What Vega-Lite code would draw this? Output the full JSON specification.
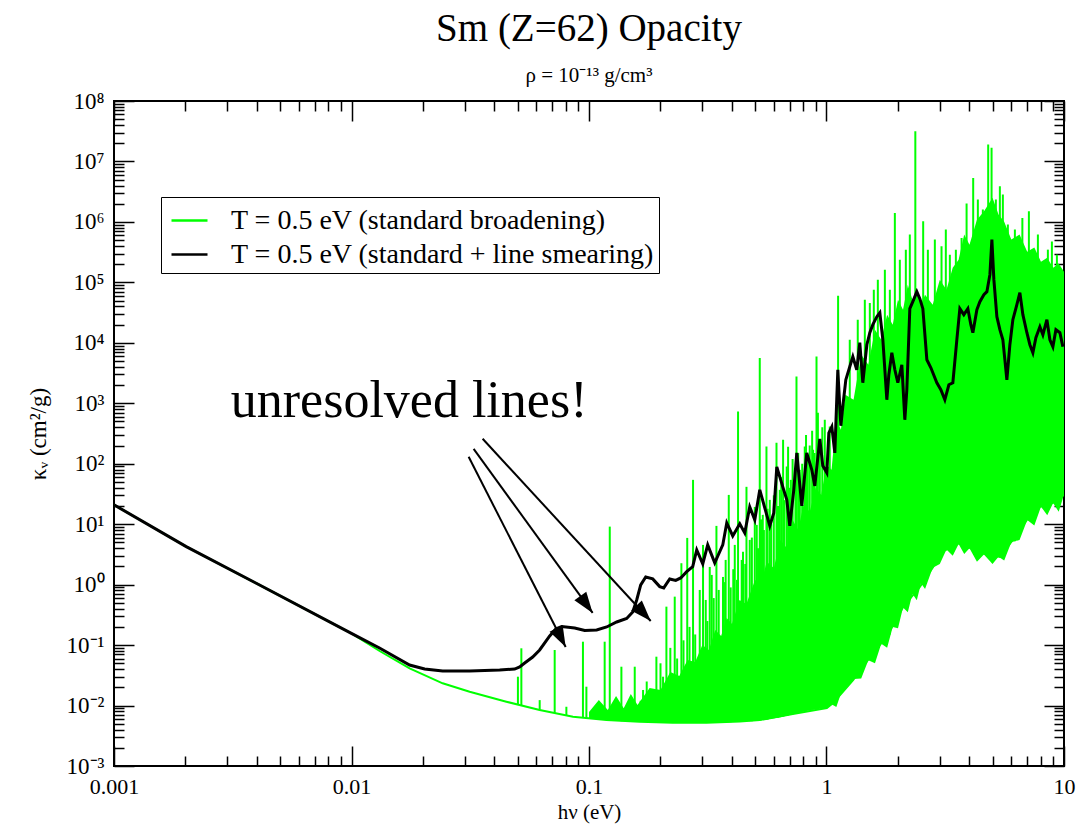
{
  "$schema": "https://vega.github.io/schema/vega-lite/v6.json",
  "width": 950,
  "height": 665,
  "autosize": {"type": "none"},
  "padding": {"left": 114, "top": 101, "right": 20, "bottom": 62},
  "background": "white",
  "config": {
    "view": {"stroke": "black", "strokeWidth": 2},
    "font": "Liberation Serif",
    "axis": {
      "labelFont": "Liberation Serif",
      "titleFont": "Liberation Serif",
      "labelColor": "black",
      "titleColor": "black",
      "tickColor": "black",
      "tickWidth": 1.5,
      "domain": false,
      "grid": false,
      "labelFontSize": 22,
      "titleFontSize": 21,
      "titleFontWeight": "normal",
      "labelOverlap": false,
      "zindex": 1
    }
  },
  "title": {
    "text": "Sm (Z=62) Opacity",
    "subtitle": "ρ = 10⁻¹³ g/cm³",
    "font": "Liberation Serif",
    "fontSize": 39,
    "fontWeight": "normal",
    "color": "black",
    "subtitleFont": "Liberation Serif",
    "subtitleFontSize": 21,
    "subtitleColor": "black",
    "subtitlePadding": 16,
    "anchor": "middle",
    "offset": 4
  },
  "datasets": {
    "standard": [
      {"hv": 0.001, "kappa": 20.9},
      {"hv": 0.002014, "kappa": 4.26},
      {"hv": 0.003972, "kappa": 1.054},
      {"hv": 0.00999, "kappa": 0.1567},
      {"hv": 0.01313, "kappa": 0.0798},
      {"hv": 0.01757, "kappa": 0.04128},
      {"hv": 0.0242, "kappa": 0.02331},
      {"hv": 0.03144, "kappa": 0.01693},
      {"hv": 0.04488, "kappa": 0.01156},
      {"hv": 0.06198, "kappa": 0.008424},
      {"hv": 0.08561, "kappa": 0.006525},
      {"hv": 0.1184, "kappa": 0.005753},
      {"hv": 0.1634, "kappa": 0.005394},
      {"hv": 0.2252, "kappa": 0.00519},
      {"hv": 0.3122, "kappa": 0.00519},
      {"hv": 0.4313, "kappa": 0.005435},
      {"hv": 0.5237, "kappa": 0.005753},
      {"hv": 0.7211, "kappa": 0.007233},
      {"hv": 1.003, "kappa": 0.009093},
      {"hv": 1.066, "kappa": 0.011},
      {"hv": 1.294, "kappa": 0.02644},
      {"hv": 1.572, "kappa": 0.07399},
      {"hv": 1.789, "kappa": 0.1362},
      {"hv": 2.102, "kappa": 0.4273},
      {"hv": 2.472, "kappa": 0.9161},
      {"hv": 2.812, "kappa": 1.963},
      {"hv": 3.001, "kappa": 3.348},
      {"hv": 3.643, "kappa": 4.901},
      {"hv": 4.424, "kappa": 3.348},
      {"hv": 5.37, "kappa": 2.874},
      {"hv": 6.091, "kappa": 5.497},
      {"hv": 6.978, "kappa": 11.78},
      {"hv": 7.916, "kappa": 19.34},
      {"hv": 8.979, "kappa": 22.52},
      {"hv": 9.99, "kappa": 30.55}
    ],
    "forest": [
      {"hv": 0.1, "lo": 0.00617, "hi": 0.0078},
      {"hv": 0.11, "lo": 0.00589, "hi": 0.01233},
      {"hv": 0.12, "lo": 0.00575, "hi": 0.00841},
      {"hv": 0.13, "lo": 0.00562, "hi": 0.01435},
      {"hv": 0.14, "lo": 0.0055, "hi": 0.00906},
      {"hv": 0.15, "lo": 0.00543, "hi": 0.01549},
      {"hv": 0.16, "lo": 0.0054, "hi": 0.01019},
      {"hv": 0.18, "lo": 0.00531, "hi": 0.0195},
      {"hv": 0.2, "lo": 0.00525, "hi": 0.01807},
      {"hv": 0.22, "lo": 0.00519, "hi": 0.0359},
      {"hv": 0.24, "lo": 0.00519, "hi": 0.0308},
      {"hv": 0.26, "lo": 0.00519, "hi": 0.0566},
      {"hv": 0.28, "lo": 0.00519, "hi": 0.0525},
      {"hv": 0.3, "lo": 0.00519, "hi": 0.1005},
      {"hv": 0.32, "lo": 0.00519, "hi": 0.083},
      {"hv": 0.34, "lo": 0.00521, "hi": 0.178},
      {"hv": 0.36, "lo": 0.00525, "hi": 0.1416},
      {"hv": 0.38, "lo": 0.00531, "hi": 0.281},
      {"hv": 0.4, "lo": 0.00537, "hi": 0.2234},
      {"hv": 0.43, "lo": 0.00543, "hi": 0.558},
      {"hv": 0.46, "lo": 0.0055, "hi": 0.479},
      {"hv": 0.5, "lo": 0.00562, "hi": 1.197},
      {"hv": 0.53, "lo": 0.00575, "hi": 1.028},
      {"hv": 0.56, "lo": 0.00589, "hi": 2.382},
      {"hv": 0.6, "lo": 0.00617, "hi": 1.888},
      {"hv": 0.64, "lo": 0.00646, "hi": 5.5},
      {"hv": 0.68, "lo": 0.00676, "hi": 4.055},
      {"hv": 0.72, "lo": 0.00716, "hi": 11.78},
      {"hv": 0.76, "lo": 0.00759, "hi": 8.05},
      {"hv": 0.8, "lo": 0.00794, "hi": 20.9},
      {"hv": 0.85, "lo": 0.00832, "hi": 16.0},
      {"hv": 0.9, "lo": 0.00871, "hi": 39.9},
      {"hv": 0.95, "lo": 0.00891, "hi": 30.5},
      {"hv": 1.0, "lo": 0.00912, "hi": 95.9},
      {"hv": 1.05, "lo": 0.0105, "hi": 79.3},
      {"hv": 1.1, "lo": 0.0095, "hi": 533},
      {"hv": 1.15, "lo": 0.0158, "hi": 364},
      {"hv": 1.2, "lo": 0.0191, "hi": 1384},
      {"hv": 1.3, "lo": 0.0275, "hi": 1143},
      {"hv": 1.4, "lo": 0.028, "hi": 6353},
      {"hv": 1.5, "lo": 0.0562, "hi": 4335},
      {"hv": 1.6, "lo": 0.05, "hi": 16480},
      {"hv": 1.7, "lo": 0.105, "hi": 11250},
      {"hv": 1.8, "lo": 0.09, "hi": 29170},
      {"hv": 1.9, "lo": 0.2, "hi": 19910},
      {"hv": 2.0, "lo": 0.19, "hi": 51760},
      {"hv": 2.1, "lo": 0.417, "hi": 35320},
      {"hv": 2.2, "lo": 0.35, "hi": 91620},
      {"hv": 2.3, "lo": 0.708, "hi": 51760},
      {"hv": 2.4, "lo": 0.55, "hi": 75680},
      {"hv": 2.5, "lo": 1.05, "hi": 42760},
      {"hv": 2.6, "lo": 0.85, "hi": 62520},
      {"hv": 2.8, "lo": 1.91, "hi": 42760},
      {"hv": 3.0, "lo": 2.2, "hi": 110900},
      {"hv": 3.2, "lo": 3.8, "hi": 75680},
      {"hv": 3.4, "lo": 3.0, "hi": 175000},
      {"hv": 3.6, "lo": 4.68, "hi": 237700},
      {"hv": 3.8, "lo": 3.2, "hi": 616600},
      {"hv": 4.0, "lo": 3.98, "hi": 420700},
      {"hv": 4.3, "lo": 2.4, "hi": 1090000},
      {"hv": 4.6, "lo": 3.16, "hi": 1480000},
      {"hv": 5.0, "lo": 2.2, "hi": 2520000},
      {"hv": 5.3, "lo": 2.88, "hi": 1320000},
      {"hv": 5.6, "lo": 2.5, "hi": 1010000},
      {"hv": 6.0, "lo": 5.01, "hi": 509300},
      {"hv": 6.5, "lo": 5.5, "hi": 616600},
      {"hv": 7.0, "lo": 11.7, "hi": 322100},
      {"hv": 7.5, "lo": 9.5, "hi": 375800},
      {"hv": 8.0, "lo": 19.5, "hi": 220300},
      {"hv": 8.5, "lo": 14, "hi": 256400},
      {"hv": 9.0, "lo": 22.4, "hi": 175000},
      {"hv": 9.5, "lo": 16, "hi": 204200},
      {"hv": 10.0, "lo": 30.9, "hi": 150300}
    ],
    "lines": [
      {"hv": 0.0502, "base": 0.0105, "peak": 0.03},
      {"hv": 0.0519, "base": 0.0102, "peak": 0.0885},
      {"hv": 0.062, "base": 0.0084, "peak": 0.0123},
      {"hv": 0.0717, "base": 0.0075, "peak": 0.083},
      {"hv": 0.0803, "base": 0.0068, "peak": 0.00955},
      {"hv": 0.0943, "base": 0.0063, "peak": 0.1138},
      {"hv": 0.0975, "base": 0.0062, "peak": 0.0205},
      {"hv": 0.1164, "base": 0.0058, "peak": 0.1138},
      {"hv": 0.1223, "base": 0.0058, "peak": 9.12},
      {"hv": 0.1369, "base": 0.0055, "peak": 0.0439},
      {"hv": 0.1558, "base": 0.0054, "peak": 0.0439},
      {"hv": 0.165, "base": 0.0054, "peak": 0.012},
      {"hv": 0.1689, "base": 0.0054, "peak": 0.0181},
      {"hv": 0.175, "base": 0.0054, "peak": 0.025},
      {"hv": 0.185, "base": 0.0053, "peak": 0.015},
      {"hv": 0.1922, "base": 0.0053, "peak": 0.0643},
      {"hv": 0.2, "base": 0.0053, "peak": 0.05},
      {"hv": 0.205, "base": 0.0052, "peak": 0.03},
      {"hv": 0.2118, "base": 0.0052, "peak": 0.4324},
      {"hv": 0.22, "base": 0.0052, "peak": 0.09},
      {"hv": 0.2296, "base": 0.0052, "peak": 0.633},
      {"hv": 0.235, "base": 0.0052, "peak": 0.06},
      {"hv": 0.2449, "base": 0.0052, "peak": 2.261},
      {"hv": 0.25, "base": 0.0052, "peak": 0.12},
      {"hv": 0.2592, "base": 0.0052, "peak": 5.93},
      {"hv": 0.265, "base": 0.0052, "peak": 0.2},
      {"hv": 0.2742, "base": 0.0052, "peak": 54.1},
      {"hv": 0.28, "base": 0.0052, "peak": 0.15},
      {"hv": 0.2926, "base": 0.0052, "peak": 0.817},
      {"hv": 0.3021, "base": 0.0052, "peak": 4.54},
      {"hv": 0.3101, "base": 0.0052, "peak": 0.558},
      {"hv": 0.315, "base": 0.0052, "peak": 0.25},
      {"hv": 0.3224, "base": 0.0052, "peak": 1.963},
      {"hv": 0.3287, "base": 0.0052, "peak": 1.447},
      {"hv": 0.335, "base": 0.0052, "peak": 0.6},
      {"hv": 0.344, "base": 0.0052, "peak": 9.37},
      {"hv": 0.3517, "base": 0.0053, "peak": 0.817},
      {"hv": 0.3667, "base": 0.0053, "peak": 1.341},
      {"hv": 0.37, "base": 0.0053, "peak": 1.1},
      {"hv": 0.3762, "base": 0.0053, "peak": 2.564},
      {"hv": 0.3877, "base": 0.0053, "peak": 30.5},
      {"hv": 0.395, "base": 0.0053, "peak": 0.9},
      {"hv": 0.405, "base": 0.0054, "peak": 1.8},
      {"hv": 0.4109, "base": 0.0054, "peak": 4.543},
      {"hv": 0.42, "base": 0.0054, "peak": 1.2},
      {"hv": 0.4242, "base": 0.0054, "peak": 731.6},
      {"hv": 0.4395, "base": 0.0054, "peak": 2.564},
      {"hv": 0.445, "base": 0.0054, "peak": 3.5},
      {"hv": 0.455, "base": 0.0055, "peak": 2.2},
      {"hv": 0.4603, "base": 0.0055, "peak": 41.5},
      {"hv": 0.4751, "base": 0.0055, "peak": 5.497},
      {"hv": 0.485, "base": 0.0055, "peak": 6},
      {"hv": 0.4989, "base": 0.0056, "peak": 19.3},
      {"hv": 0.5085, "base": 0.0056, "peak": 9.736},
      {"hv": 0.515, "base": 0.0056, "peak": 4},
      {"hv": 0.5236, "base": 0.0057, "peak": 5602},
      {"hv": 0.53, "base": 0.0057, "peak": 12},
      {"hv": 0.5391, "base": 0.0058, "peak": 14.26},
      {"hv": 0.545, "base": 0.0058, "peak": 8},
      {"hv": 0.5587, "base": 0.0059, "peak": 192.7},
      {"hv": 0.565, "base": 0.0059, "peak": 18},
      {"hv": 0.5771, "base": 0.006, "peak": 25.25},
      {"hv": 0.585, "base": 0.006, "peak": 10},
      {"hv": 0.6, "base": 0.0062, "peak": 30},
      {"hv": 0.6158, "base": 0.0063, "peak": 221.8},
      {"hv": 0.625, "base": 0.0063, "peak": 20},
      {"hv": 0.6357, "base": 0.0064, "peak": 36.98},
      {"hv": 0.645, "base": 0.0065, "peak": 60},
      {"hv": 0.6565, "base": 0.0066, "peak": 248.7},
      {"hv": 0.665, "base": 0.0067, "peak": 25},
      {"hv": 0.68, "base": 0.0068, "peak": 90},
      {"hv": 0.6891, "base": 0.0069, "peak": 190.5},
      {"hv": 0.7, "base": 0.007, "peak": 40},
      {"hv": 0.7075, "base": 0.0071, "peak": 54.13},
      {"hv": 0.72, "base": 0.0072, "peak": 120},
      {"hv": 0.74, "base": 0.0075, "peak": 70},
      {"hv": 0.7475, "base": 0.0076, "peak": 2778},
      {"hv": 0.76, "base": 0.0077, "peak": 150},
      {"hv": 0.7719, "base": 0.0078, "peak": 79.25},
      {"hv": 0.79, "base": 0.0079, "peak": 100},
      {"hv": 0.81, "base": 0.0081, "peak": 192.7},
      {"hv": 0.82, "base": 0.0082, "peak": 300},
      {"hv": 0.8341, "base": 0.0083, "peak": 116},
      {"hv": 0.85, "base": 0.0084, "peak": 200},
      {"hv": 0.87, "base": 0.0086, "peak": 350},
      {"hv": 0.8781, "base": 0.0086, "peak": 169.9},
      {"hv": 0.89, "base": 0.0087, "peak": 150},
      {"hv": 0.9077, "base": 0.0088, "peak": 5955},
      {"hv": 0.92, "base": 0.0088, "peak": 700},
      {"hv": 0.9372, "base": 0.0089, "peak": 248.7},
      {"hv": 0.96, "base": 0.0089, "peak": 400},
      {"hv": 0.9836, "base": 0.009, "peak": 533.1},
      {"hv": 1.032, "base": 0.0105, "peak": 412.9},
      {"hv": 1.119, "base": 0.014, "peak": 60240},
      {"hv": 1.253, "base": 0.023, "peak": 11250},
      {"hv": 1.354, "base": 0.033, "peak": 24130},
      {"hv": 1.45, "base": 0.047, "peak": 51730},
      {"hv": 1.522, "base": 0.06, "peak": 45600},
      {"hv": 1.582, "base": 0.07, "peak": 75700},
      {"hv": 1.645, "base": 0.09, "peak": 110800},
      {"hv": 1.761, "base": 0.12, "peak": 162300},
      {"hv": 1.848, "base": 0.15, "peak": 75700},
      {"hv": 1.94, "base": 0.23, "peak": 1410000},
      {"hv": 2.036, "base": 0.32, "peak": 237600},
      {"hv": 2.158, "base": 0.5, "peak": 347800},
      {"hv": 2.243, "base": 0.6, "peak": 616300},
      {"hv": 2.366, "base": 0.8, "peak": 31600000},
      {"hv": 2.553, "base": 1.2, "peak": 1023000},
      {"hv": 2.672, "base": 1.5, "peak": 347800},
      {"hv": 2.859, "base": 2.2, "peak": 509300},
      {"hv": 3.05, "base": 3.4, "peak": 394500},
      {"hv": 3.18, "base": 3.7, "peak": 745700},
      {"hv": 3.307, "base": 4.0, "peak": 287500},
      {"hv": 3.505, "base": 4.5, "peak": 347800},
      {"hv": 3.705, "base": 4.7, "peak": 543300},
      {"hv": 3.889, "base": 4.3, "peak": 2010000},
      {"hv": 4.146, "base": 3.7, "peak": 5350000},
      {"hv": 4.338, "base": 3.4, "peak": 2340000},
      {"hv": 4.553, "base": 3.2, "peak": 1598000},
      {"hv": 4.795, "base": 3.0, "peak": 19050000},
      {"hv": 4.955, "base": 2.95, "peak": 16800000},
      {"hv": 5.166, "base": 2.9, "peak": 2340000},
      {"hv": 5.37, "base": 2.9, "peak": 3880000},
      {"hv": 5.528, "base": 3.4, "peak": 2830000},
      {"hv": 5.803, "base": 4.2, "peak": 902000},
      {"hv": 6.212, "base": 5.2, "peak": 745700},
      {"hv": 6.679, "base": 8.5, "peak": 1165000},
      {"hv": 7.115, "base": 11.5, "peak": 1497000},
      {"hv": 7.468, "base": 15, "peak": 347800},
      {"hv": 7.764, "base": 17, "peak": 616300},
      {"hv": 8.175, "base": 20, "peak": 209600},
      {"hv": 8.553, "base": 21, "peak": 347800},
      {"hv": 8.892, "base": 22, "peak": 472100},
      {"hv": 9.335, "base": 25, "peak": 287500},
      {"hv": 9.771, "base": 28, "peak": 125600}
    ],
    "smeared": [
      {"hv": 0.001, "kappa": 20.9},
      {"hv": 0.002014, "kappa": 4.26},
      {"hv": 0.003972, "kappa": 1.054},
      {"hv": 0.00999, "kappa": 0.1567},
      {"hv": 0.01312, "kappa": 0.0895},
      {"hv": 0.01756, "kappa": 0.0468},
      {"hv": 0.02032, "kappa": 0.0402},
      {"hv": 0.0242, "kappa": 0.03725},
      {"hv": 0.03144, "kappa": 0.03725},
      {"hv": 0.04205, "kappa": 0.0387},
      {"hv": 0.04864, "kappa": 0.0402},
      {"hv": 0.05106, "kappa": 0.0434},
      {"hv": 0.0536, "kappa": 0.0505},
      {"hv": 0.05793, "kappa": 0.0635},
      {"hv": 0.06198, "kappa": 0.083},
      {"hv": 0.06832, "kappa": 0.1415},
      {"hv": 0.07243, "kappa": 0.1848},
      {"hv": 0.07674, "kappa": 0.2032},
      {"hv": 0.08706, "kappa": 0.1919},
      {"hv": 0.09592, "kappa": 0.1744},
      {"hv": 0.1077, "kappa": 0.1778},
      {"hv": 0.1187, "kappa": 0.1994},
      {"hv": 0.1308, "kappa": 0.2412},
      {"hv": 0.1441, "kappa": 0.2757},
      {"hv": 0.1528, "kappa": 0.3532},
      {"hv": 0.1588, "kappa": 0.558},
      {"hv": 0.1651, "kappa": 0.989},
      {"hv": 0.1733, "kappa": 1.341},
      {"hv": 0.1855, "kappa": 1.243},
      {"hv": 0.1985, "kappa": 0.927},
      {"hv": 0.2064, "kappa": 0.882},
      {"hv": 0.2187, "kappa": 1.243},
      {"hv": 0.2318, "kappa": 1.173},
      {"hv": 0.2433, "kappa": 1.291},
      {"hv": 0.2579, "kappa": 1.641},
      {"hv": 0.2733, "kappa": 1.986},
      {"hv": 0.2842, "kappa": 3.754},
      {"hv": 0.3013, "kappa": 2.202},
      {"hv": 0.3161, "kappa": 4.543},
      {"hv": 0.3384, "kappa": 2.287},
      {"hv": 0.3658, "kappa": 4.543},
      {"hv": 0.3802, "kappa": 10.51},
      {"hv": 0.403, "kappa": 6.401},
      {"hv": 0.4313, "kappa": 10.12},
      {"hv": 0.4526, "kappa": 7.17},
      {"hv": 0.4751, "kappa": 19.34},
      {"hv": 0.4989, "kappa": 11.79},
      {"hv": 0.5237, "kappa": 36.98},
      {"hv": 0.5497, "kappa": 18.62},
      {"hv": 0.5771, "kappa": 9.374},
      {"hv": 0.5998, "kappa": 15.39},
      {"hv": 0.6177, "kappa": 88.85},
      {"hv": 0.6545, "kappa": 41.45},
      {"hv": 0.6805, "kappa": 25.25},
      {"hv": 0.7005, "kappa": 9.374},
      {"hv": 0.7283, "kappa": 36.98},
      {"hv": 0.7497, "kappa": 151.5},
      {"hv": 0.787, "kappa": 20.09},
      {"hv": 0.826, "kappa": 151.5},
      {"hv": 0.8671, "kappa": 79.25},
      {"hv": 0.8927, "kappa": 43.06},
      {"hv": 0.9372, "kappa": 256.4},
      {"hv": 0.9647, "kappa": 92.3},
      {"hv": 1.003, "kappa": 70.69},
      {"hv": 1.023, "kappa": 324.8},
      {"hv": 1.053, "kappa": 408.3},
      {"hv": 1.084, "kappa": 151.5},
      {"hv": 1.116, "kappa": 3585},
      {"hv": 1.149, "kappa": 424.2},
      {"hv": 1.171, "kappa": 875.1},
      {"hv": 1.206, "kappa": 2449},
      {"hv": 1.253, "kappa": 4021},
      {"hv": 1.291, "kappa": 5887},
      {"hv": 1.341, "kappa": 3585},
      {"hv": 1.381, "kappa": 10040},
      {"hv": 1.422, "kappa": 2185},
      {"hv": 1.479, "kappa": 9301},
      {"hv": 1.522, "kappa": 14700},
      {"hv": 1.567, "kappa": 19940},
      {"hv": 1.629, "kappa": 27050},
      {"hv": 1.677, "kappa": 31500},
      {"hv": 1.727, "kappa": 11250},
      {"hv": 1.795, "kappa": 1143},
      {"hv": 1.83, "kappa": 2965},
      {"hv": 1.884, "kappa": 6857},
      {"hv": 1.94, "kappa": 3585},
      {"hv": 1.997, "kappa": 2185},
      {"hv": 2.076, "kappa": 4339},
      {"hv": 2.137, "kappa": 533.1},
      {"hv": 2.179, "kappa": 1673},
      {"hv": 2.243, "kappa": 36690},
      {"hv": 2.309, "kappa": 47910},
      {"hv": 2.401, "kappa": 70150},
      {"hv": 2.472, "kappa": 53730},
      {"hv": 2.545, "kappa": 36690},
      {"hv": 2.646, "kappa": 5252},
      {"hv": 2.751, "kappa": 3869},
      {"hv": 2.915, "kappa": 2185},
      {"hv": 3.03, "kappa": 1673},
      {"hv": 3.15, "kappa": 1143},
      {"hv": 3.275, "kappa": 2025},
      {"hv": 3.404, "kappa": 2185},
      {"hv": 3.539, "kappa": 11250},
      {"hv": 3.643, "kappa": 36690},
      {"hv": 3.787, "kappa": 29190},
      {"hv": 3.937, "kappa": 36690},
      {"hv": 4.053, "kappa": 19940},
      {"hv": 4.133, "kappa": 14700},
      {"hv": 4.297, "kappa": 35320},
      {"hv": 4.424, "kappa": 47910},
      {"hv": 4.599, "kappa": 62570},
      {"hv": 4.735, "kappa": 70150},
      {"hv": 4.875, "kappa": 134100},
      {"hv": 4.97, "kappa": 509300},
      {"hv": 5.067, "kappa": 110800},
      {"hv": 5.216, "kappa": 27050},
      {"hv": 5.37, "kappa": 16480},
      {"hv": 5.528, "kappa": 11250},
      {"hv": 5.636, "kappa": 5252},
      {"hv": 5.747, "kappa": 2449},
      {"hv": 5.917, "kappa": 9301},
      {"hv": 6.091, "kappa": 24130},
      {"hv": 6.332, "kappa": 42740},
      {"hv": 6.519, "kappa": 67530},
      {"hv": 6.712, "kappa": 29190},
      {"hv": 6.978, "kappa": 14700},
      {"hv": 7.184, "kappa": 9301},
      {"hv": 7.396, "kappa": 6857},
      {"hv": 7.614, "kappa": 12150},
      {"hv": 7.916, "kappa": 18470},
      {"hv": 8.149, "kappa": 13620},
      {"hv": 8.472, "kappa": 24130},
      {"hv": 8.722, "kappa": 11250},
      {"hv": 8.979, "kappa": 8617},
      {"hv": 9.245, "kappa": 16480},
      {"hv": 9.61, "kappa": 14700},
      {"hv": 9.89, "kappa": 8617}
    ],
    "arrows": [
      {"x1": 0.03113, "y1": 130.1, "x2": 0.07975, "y2": 0.093},
      {"x1": 0.03268, "y1": 176.5, "x2": 0.1036, "y2": 0.34},
      {"x1": 0.03566, "y1": 258.4, "x2": 0.1819, "y2": 0.2506}
    ],
    "note": [
      {"hv": 0.01748, "kappa": 597.6, "text": "unresolved lines!"}
    ]
  },
  "layer": [
    {
      "data": {"name": "forest"},
      "mark": {"type": "area", "color": "#00ff00", "opacity": 1, "clip": true, "interpolate": "linear"},
      "encoding": {
        "x": {"field": "hv", "type": "quantitative", "scale": {"type": "log", "domain": [0.001, 10], "nice": false}, "axis": null},
        "y": {"field": "lo", "type": "quantitative", "scale": {"type": "log", "domain": [0.001, 100000000], "nice": false}, "axis": null},
        "y2": {"field": "hi"}
      }
    },
    {
      "data": {"name": "lines"},
      "mark": {"type": "rule", "color": "#00ff00", "strokeWidth": 2, "clip": true},
      "encoding": {
        "x": {"field": "hv", "type": "quantitative", "scale": {"type": "log", "domain": [0.001, 10], "nice": false}, "axis": null},
        "y": {"field": "base", "type": "quantitative", "scale": {"type": "log", "domain": [0.001, 100000000], "nice": false}, "axis": null},
        "y2": {"field": "peak"}
      }
    },
    {
      "data": {"name": "standard"},
      "mark": {"type": "line", "strokeWidth": 2, "clip": true},
      "encoding": {
        "x": {
          "field": "hv", "type": "quantitative",
          "scale": {"type": "log", "domain": [0.001, 10], "nice": false},
          "axis": {
            "orient": "bottom",
            "title": "hν (eV)",
            "titlePadding": -6,
            "values": [0.001, 0.002, 0.003, 0.004, 0.005, 0.006, 0.007, 0.008, 0.009, 0.01, 0.02, 0.03, 0.04, 0.05, 0.06, 0.07, 0.08, 0.09, 0.1, 0.2, 0.3, 0.4, 0.5, 0.6, 0.7, 0.8, 0.9, 1, 2, 3, 4, 5, 6, 7, 8, 9, 10],
            "labelExpr": "abs(log(datum.value)/LN10 - round(log(datum.value)/LN10)) < 0.001 ? format(datum.value, '~g') : ''",
            "tickSize": {"condition": {"test": "abs(log(datum.value)/LN10 - round(log(datum.value)/LN10)) < 0.001", "value": -20}, "value": -10},
            "labelPadding": 30,
            "labelFlush": false
          }
        },
        "y": {
          "field": "kappa", "type": "quantitative",
          "scale": {"type": "log", "domain": [0.001, 100000000], "nice": false},
          "axis": {
            "orient": "left",
            "title": "κᵥ (cm²/g)",
            "titleFontSize": 23,
            "titlePadding": 16,
            "labelFontSize": 23,
            "values": [0.001, 0.002, 0.003, 0.004, 0.005, 0.006, 0.007, 0.008, 0.009, 0.01, 0.02, 0.03, 0.04, 0.05, 0.06, 0.07, 0.08, 0.09, 0.1, 0.2, 0.3, 0.4, 0.5, 0.6, 0.7, 0.8, 0.9, 1, 2, 3, 4, 5, 6, 7, 8, 9, 10, 20, 30, 40, 50, 60, 70, 80, 90, 100, 200, 300, 400, 500, 600, 700, 800, 900, 1000, 2000, 3000, 4000, 5000, 6000, 7000, 8000, 9000, 10000, 20000, 30000, 40000, 50000, 60000, 70000, 80000, 90000, 100000, 200000, 300000, 400000, 500000, 600000, 700000, 800000, 900000, 1000000, 2000000, 3000000, 4000000, 5000000, 6000000, 7000000, 8000000, 9000000, 10000000, 20000000, 30000000, 40000000, 50000000, 60000000, 70000000, 80000000, 90000000, 100000000],
            "labelExpr": "abs(log(datum.value)/LN10 - round(log(datum.value)/LN10)) < 0.001 ? '10' + (round(log(datum.value)/LN10) < 0 ? '⁻' : '') + substring('⁰¹²³⁴⁵⁶⁷⁸⁹', abs(round(log(datum.value)/LN10)), abs(round(log(datum.value)/LN10)) + 1) : ''",
            "tickSize": {"condition": {"test": "abs(log(datum.value)/LN10 - round(log(datum.value)/LN10)) < 0.001", "value": -20}, "value": -10},
            "labelPadding": 30,
            "labelFlush": false
          }
        },
        "color": {
          "datum": "T = 0.5 eV (standard broadening)",
          "type": "nominal",
          "scale": {"domain": ["T = 0.5 eV (standard broadening)", "T = 0.5 eV (standard + line smearing)"], "range": ["#00ff00", "#000000"]},
          "legend": {
            "title": null,
            "orient": "none",
            "legendX": 47,
            "legendY": 96,
            "strokeColor": "black",
            "fillColor": "white",
            "padding": 4,
            "symbolOffset": 5,
            "symbolType": "stroke",
            "symbolSize": 1296,
            "symbolStrokeWidth": 2.5,
            "labelFont": "Liberation Serif",
            "labelFontSize": 28,
            "labelColor": "black",
            "labelLimit": 0,
            "labelOffset": 22,
            "rowPadding": 0,
            "zindex": 2
          }
        }
      }
    },
    {
      "data": {"name": "smeared"},
      "mark": {"type": "line", "strokeWidth": 3, "clip": true},
      "encoding": {
        "x": {
          "field": "hv", "type": "quantitative",
          "scale": {"type": "log", "domain": [0.001, 10], "nice": false},
          "axis": {
            "orient": "top",
            "title": null,
            "labels": false,
            "values": [0.001, 0.002, 0.003, 0.004, 0.005, 0.006, 0.007, 0.008, 0.009, 0.01, 0.02, 0.03, 0.04, 0.05, 0.06, 0.07, 0.08, 0.09, 0.1, 0.2, 0.3, 0.4, 0.5, 0.6, 0.7, 0.8, 0.9, 1, 2, 3, 4, 5, 6, 7, 8, 9, 10],
            "tickSize": {"condition": {"test": "abs(log(datum.value)/LN10 - round(log(datum.value)/LN10)) < 0.001", "value": -20}, "value": -10}
          }
        },
        "y": {
          "field": "kappa", "type": "quantitative",
          "scale": {"type": "log", "domain": [0.001, 100000000], "nice": false},
          "axis": {
            "orient": "right",
            "title": null,
            "labels": false,
            "values": [0.001, 0.002, 0.003, 0.004, 0.005, 0.006, 0.007, 0.008, 0.009, 0.01, 0.02, 0.03, 0.04, 0.05, 0.06, 0.07, 0.08, 0.09, 0.1, 0.2, 0.3, 0.4, 0.5, 0.6, 0.7, 0.8, 0.9, 1, 2, 3, 4, 5, 6, 7, 8, 9, 10, 20, 30, 40, 50, 60, 70, 80, 90, 100, 200, 300, 400, 500, 600, 700, 800, 900, 1000, 2000, 3000, 4000, 5000, 6000, 7000, 8000, 9000, 10000, 20000, 30000, 40000, 50000, 60000, 70000, 80000, 90000, 100000, 200000, 300000, 400000, 500000, 600000, 700000, 800000, 900000, 1000000, 2000000, 3000000, 4000000, 5000000, 6000000, 7000000, 8000000, 9000000, 10000000, 20000000, 30000000, 40000000, 50000000, 60000000, 70000000, 80000000, 90000000, 100000000],
            "tickSize": {"condition": {"test": "abs(log(datum.value)/LN10 - round(log(datum.value)/LN10)) < 0.001", "value": -20}, "value": -10}
          }
        },
        "color": {"datum": "T = 0.5 eV (standard + line smearing)", "type": "nominal"}
      }
    },
    {
      "data": {"name": "arrows"},
      "mark": {"type": "rule", "color": "black", "strokeWidth": 2},
      "encoding": {
        "x": {"field": "x1", "type": "quantitative", "scale": {"type": "log", "domain": [0.001, 10], "nice": false}, "axis": null},
        "y": {"field": "y1", "type": "quantitative", "scale": {"type": "log", "domain": [0.001, 100000000], "nice": false}, "axis": null},
        "x2": {"field": "x2"},
        "y2": {"field": "y2"}
      }
    },
    {
      "data": {"name": "arrows"},
      "transform": [
        {"calculate": "-atan2((width / 4) * log(datum.x2 / datum.x1) / LN10, -(height / 11) * log(datum.y2 / datum.y1) / LN10) * 180 / PI", "as": "heading"}
      ],
      "mark": {"type": "point", "shape": "M0,0L-0.7,-2L0.7,-2Z", "filled": true, "color": "black", "opacity": 1, "size": 441, "strokeWidth": 0},
      "encoding": {
        "x": {"field": "x2", "type": "quantitative", "scale": {"type": "log", "domain": [0.001, 10], "nice": false}, "axis": null},
        "y": {"field": "y2", "type": "quantitative", "scale": {"type": "log", "domain": [0.001, 100000000], "nice": false}, "axis": null},
        "angle": {"field": "heading", "type": "quantitative", "scale": null}
      }
    },
    {
      "data": {"name": "note"},
      "mark": {"type": "text", "font": "Liberation Serif", "fontSize": 52, "color": "black", "align": "center", "baseline": "alphabetic"},
      "encoding": {
        "x": {"field": "hv", "type": "quantitative", "scale": {"type": "log", "domain": [0.001, 10], "nice": false}, "axis": null},
        "y": {"field": "kappa", "type": "quantitative", "scale": {"type": "log", "domain": [0.001, 100000000], "nice": false}, "axis": null},
        "text": {"field": "text"}
      }
    }
  ],
  "resolve": {"axis": {"x": "independent", "y": "independent"}}
}
